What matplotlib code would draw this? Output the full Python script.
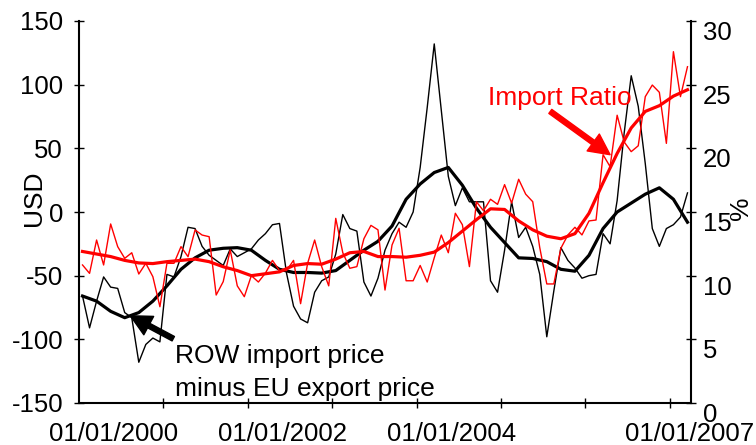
import matplotlib
matplotlib.use("Agg")
import matplotlib.pyplot as plt

plt.rcParams["font.family"] = ["Liberation Sans", "DejaVu Sans"]

# month index 0 = Jan 2000 ... 86 = Mar 2007
row_minus_eu = [
    -66, -91, -70, -51, -59, -60, -79, -83, -118, -104, -99, -102,
    -49, -51, -35, -12, -13, -27, -34, -38, -42, -29, -35, -32,
    -29, -22, -17, -10, -9, -48, -74, -84, -87, -63, -54, -51,
    -33, -2, -13, -15, -55, -66, -52, -30, -17, -8, -12, 0,
    35, 82, 132, 80, 28, 5, 19, 8, 8, 8, -54, -63,
    -30, 8, -20, -12, -27, -49, -98, -62, -28, -38, -44, -52,
    -50, -49, -17, -25, 9, 62, 107, 83, 38, -13, -27, -13,
    -10, -4, 15,
]
import_ratio = [
    10.84, 10.18, 12.8, 10.84, 14.06, 12.28, 11.36, 11.8, 10.13, 10.97, 9.92, 7.56,
    10.97, 10.97, 12.28, 11.49, 13.59, 13.19, 13.06, 8.48, 9.53, 12.02, 9.2, 8.35,
    10.0, 9.5, 10.2, 11.2, 10.4, 10.4, 11.2, 7.8, 10.97, 12.8, 10.71, 9.2,
    14.5, 11.8, 10.58, 10.71, 12.9, 13.95, 13.6, 8.87, 12.41, 13.72, 9.6, 9.6,
    10.8, 9.5, 11.4, 13.19, 11.8, 14.9, 14.0, 10.71, 15.8, 15.1, 16.0, 15.6,
    17.15, 15.7, 17.57, 16.4, 15.81, 12.2, 9.35, 9.35, 12.15, 13.2, 13.8, 13.2,
    14.3, 14.37, 19.5, 18.56, 22.6, 20.5, 19.74, 20.2, 24.06, 24.97, 24.4, 20.39,
    27.59, 24.06, 26.41,
]
months = list(range(len(row_minus_eu)))

# smoothed trends, every second month
trend_months = list(range(0, 87, 2))
row_trend = [
    -66, -70, -78, -83, -79, -70, -58, -45, -36, -30, -28.5, -28,
    -30, -38, -45, -47.5, -47.5, -48, -46, -38, -30, -23, -11, 10,
    22, 31, 35, 21, 3, -12, -24, -36, -36.5, -39, -45, -46.5,
    -34, -13, 0, 7, 14, 19, 10, -8,
]
ratio_trend = [
    11.9, 11.7, 11.5, 11.2, 11.0, 10.95, 11.1, 11.2, 11.3, 11.1, 10.7, 10.4,
    10.0, 10.15, 10.3, 10.8, 10.95, 10.9, 11.3, 11.8, 11.9, 11.5, 11.5, 11.45,
    11.6, 11.85, 12.6, 13.5, 14.4, 15.25, 15.2, 14.3, 13.6, 13.1, 12.9, 13.3,
    14.9, 17.3, 19.6, 21.6, 22.9, 23.35, 24.1, 24.6,
]

usd_ticks = [-150, -100, -50, 0, 50, 100, 150]
pct_ticks = [0, 5, 10, 15, 20, 25, 30]
date_labels = ["01/01/2000", "01/01/2002", "01/01/2004", "01/01/2007"]

FS = 18.5   # tick labels
FA = 19     # axis titles and notes
W, H = 756, 445

fig = plt.figure(figsize=(W / 100, H / 100), dpi=100)
ax = fig.add_axes([79 / W, 42 / H, 612 / W, 382 / H])

ax.plot(months, row_minus_eu, color="black", lw=1.0)
ax.plot(trend_months, row_trend, color="black", lw=2.3, solid_joinstyle="round")
ax.set_xlim(-0.5, 86.5)
ax.set_ylim(-150, 150)
ax.set_yticks(usd_ticks)
ax.set_yticklabels([str(v) for v in usd_ticks], fontsize=FS)

# yearly tick marks sit between categories, labels placed separately
ax.set_xticks([11.5 + 12 * k for k in range(7)])
ax.set_xticklabels([])
ax.set_xticks([4.4, 28.4, 52.4, 86.3], minor=True)
ax.set_xticklabels(date_labels, minor=True, fontsize=FS)
ax.tick_params(axis="x", which="major", direction="inout", length=7, width=1)
ax.tick_params(axis="x", which="minor", length=0, pad=13.5)
ax.tick_params(axis="y", direction="inout", length=7, width=1, pad=8)

ax2 = ax.twinx()
ax2.plot(months, import_ratio, color="#ff0000", lw=1.0)
ax2.plot(trend_months, ratio_trend, color="#ff0000", lw=2.3, solid_joinstyle="round")
ax2.set_ylim(0, 30)
ax2.set_yticks(pct_ticks)
ax2.set_yticklabels([str(v) for v in pct_ticks], fontsize=FS)
ax2.tick_params(axis="y", direction="inout", length=7, width=1, pad=5)
for lab in ax2.get_yticklabels():
    lab.set_verticalalignment("top")

for a in (ax, ax2):
    a.spines["top"].set_visible(False)
    for s in a.spines.values():
        s.set_linewidth(1.5)
ax.spines["right"].set_visible(False)
ax2.spines["left"].set_visible(False)
ax2.spines["bottom"].set_visible(False)

fig.text(34 / W, 1 - 198 / H, "USD", rotation=90, fontsize=FA, ha="center", va="center")
fig.text(741 / W, 1 - 208 / H, "%", rotation=90, fontsize=FA, ha="center", va="center")

# annotations
ax.annotate("", xy=(6.8, -81.5), xytext=(12.9, -99.5),
            arrowprops=dict(facecolor="black", edgecolor="black", width=3.6,
                            headwidth=15, headlength=15, shrink=0))
fig.text(175 / W, 1 - 363 / H, "ROW import price", fontsize=FA, va="baseline")
fig.text(175 / W, 1 - 396 / H, "minus EU export price", fontsize=FA, va="baseline")

ax2.annotate("", xy=(75, 19.5), xytext=(66.5, 22.9),
             arrowprops=dict(facecolor="#ff0000", edgecolor="#ff0000", width=3.6,
                             headwidth=15, headlength=15, shrink=0))
fig.text(488 / W, 1 - 105 / H, "Import Ratio", fontsize=FA, color="#ff0000", va="baseline")

fig.savefig("out.png", dpi=100)
